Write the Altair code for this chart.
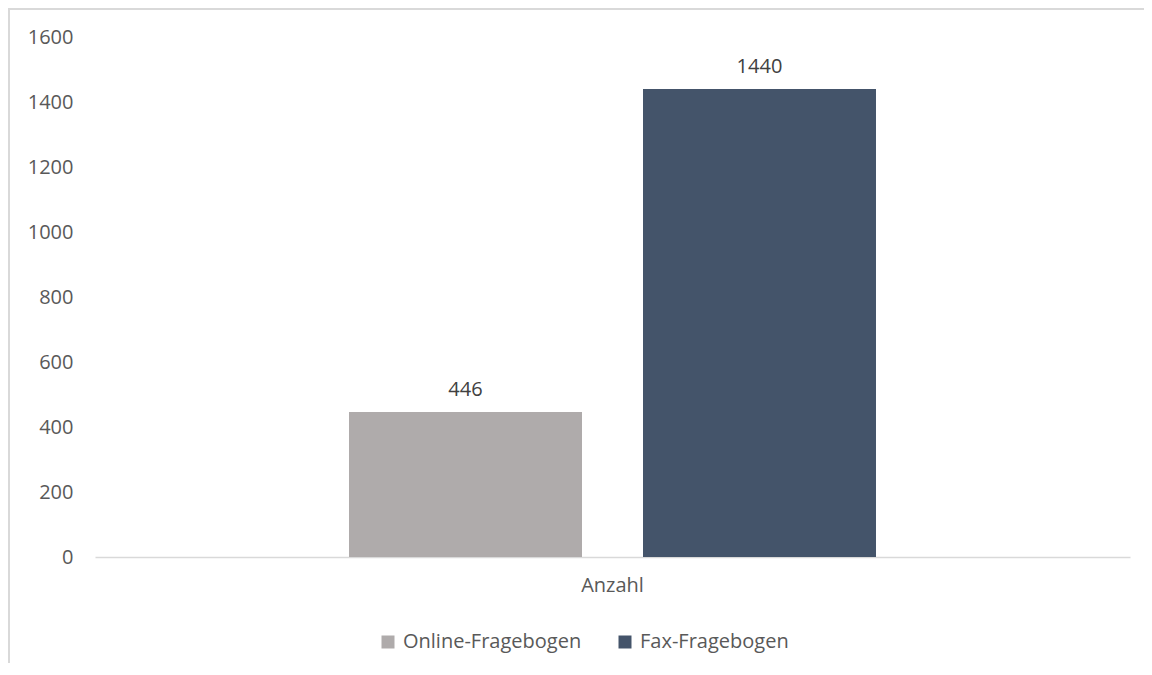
import altair as alt
import pandas as pd

kategorien = ["Anzahl", "Anzahl"]
serien = ["Online-Fragebogen", "Fax-Fragebogen"]
werte = [446, 1440]
farben = ["#AFABAB", "#44546A"]
y_ticks = [0, 200, 400, 600, 800, 1000, 1200, 1400, 1600]

df = pd.DataFrame({"Kategorie": kategorien, "Serie": serien, "Wert": werte})

W, H = 1035, 520
PL, PT, PR, PB = 87, 29, 14, 106
FONT = "Open Sans"

x = alt.X(
    "Kategorie:N",
    axis=alt.Axis(title=None, labelAngle=0, ticks=False, domainColor="#D9D9D9",
                  domainWidth=1.5, labelPadding=18, labelFontSize=20,
                  labelColor="#595959", labelFont=FONT),
    scale=alt.Scale(paddingInner=0, paddingOuter=0.482),
)
xo = alt.XOffset("Serie:N", sort=serien, scale=alt.Scale(paddingInner=0.2075, paddingOuter=0))
y = alt.Y(
    "Wert:Q",
    scale=alt.Scale(domain=[0, 1600], nice=False),
    axis=alt.Axis(values=y_ticks, grid=False, domain=False, ticks=False, labelPadding=22,
                  title=None, labelFontSize=20, labelColor="#595959", labelFont=FONT,
                  format="d"),
)
color = alt.Color(
    "Serie:N", sort=serien,
    scale=alt.Scale(domain=serien, range=farben),
    legend=alt.Legend(orient="none", legendX=283, legendY=595, direction="horizontal",
                      title=None, symbolType="square", symbolSize=169, labelFontSize=20,
                      labelFont=FONT, labelColor="#595959", columnPadding=33, labelOffset=5,
                      symbolStrokeWidth=0, padding=0, symbolOpacity=1, labelLimit=400),
)

bars = alt.Chart(df).mark_bar().encode(x=x, xOffset=xo, y=y, color=color)
text = alt.Chart(df).mark_text(baseline="bottom", dy=-12, fontSize=20, font=FONT,
                               color="#404040").encode(x=x, xOffset=xo, y=y, text="Wert:Q")

frame_df = pd.DataFrame({"f": [0]})
left_line = alt.Chart(frame_df).mark_rule(color="#D9D9D9", strokeWidth=2).encode(
    x=alt.value(-86), y=alt.value(-28), y2=alt.value(H + PB))
top_line = alt.Chart(frame_df).mark_rule(color="#D9D9D9", strokeWidth=2).encode(
    x=alt.value(-87), x2=alt.value(W + PR), y=alt.value(-28))

chart = alt.layer(bars, text, left_line, top_line).properties(
    width=W, height=H,
    padding={"left": PL, "top": PT, "right": PR, "bottom": PB},
    autosize=alt.AutoSizeParams(type="none"),
).configure(font=FONT).configure_view(stroke=None, strokeWidth=0)

chart.save("out.html", embed_options={"renderer": "svg", "actions": False})
